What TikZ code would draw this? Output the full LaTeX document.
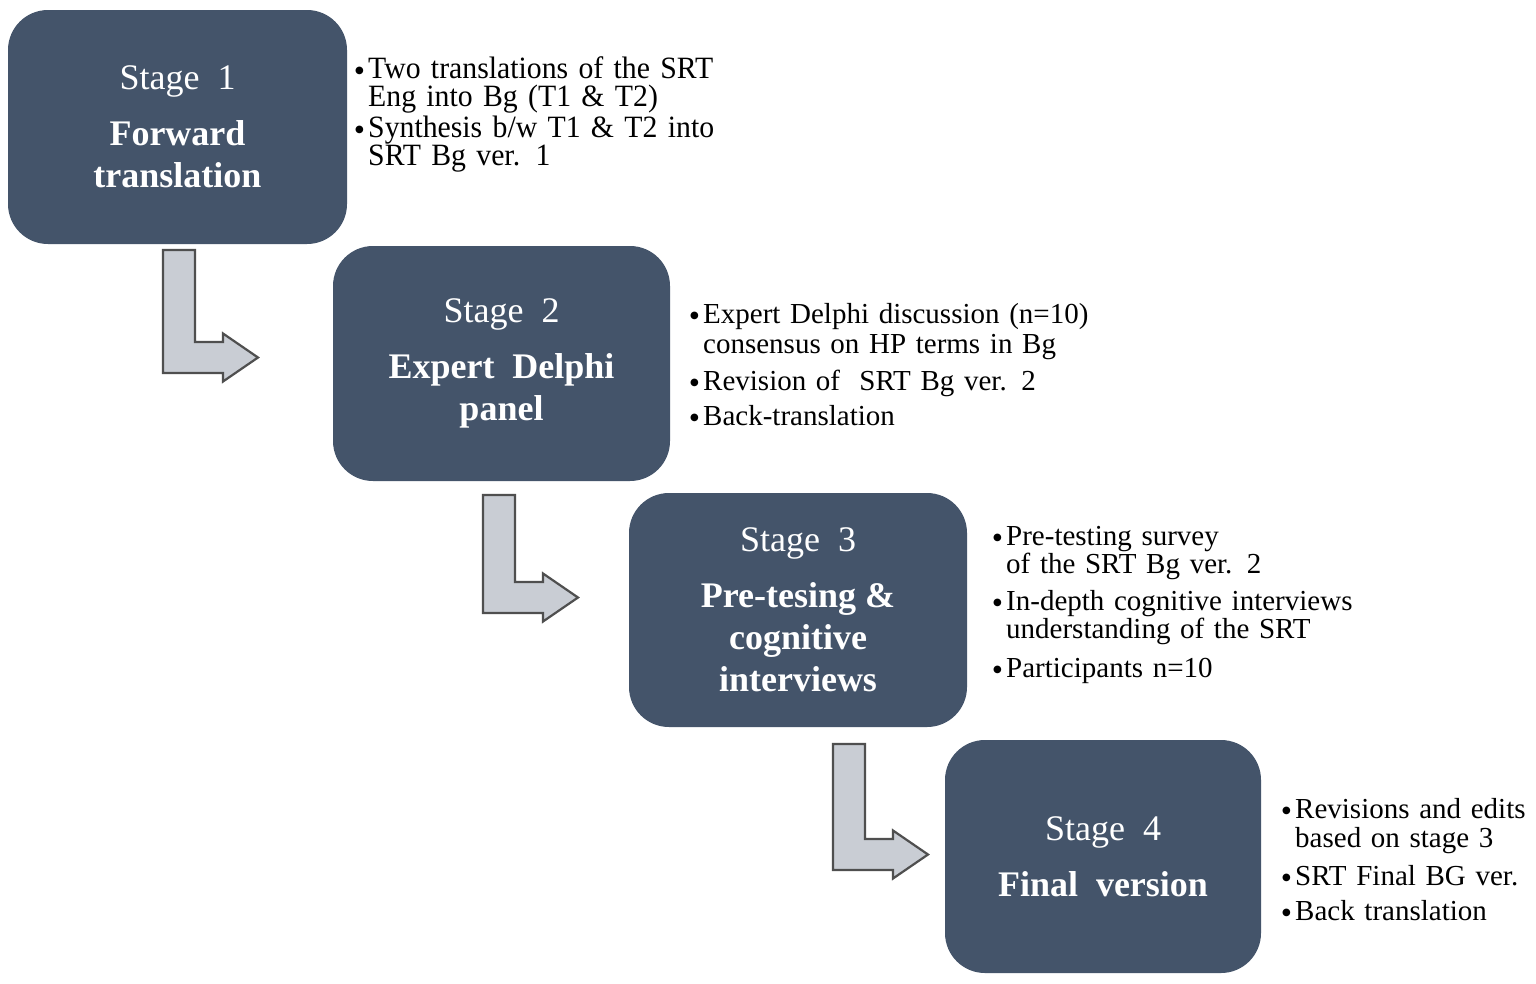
\documentclass[tikz,border=0pt]{standalone}
\usepackage{fontspec}
\setmainfont{Liberation Serif}
\newfontfamily\tallfont[FakeStretch=0.96]{Liberation Serif}
\newfontfamily\symfont{DejaVu Sans}
\definecolor{boxblue}{HTML}{44546A}
\definecolor{arrowfill}{HTML}{C9CDD4}
\definecolor{arrowline}{HTML}{4F4F4F}
\newcommand{\bulit}[1]{\hangindent=13pt\hangafter=1\noindent\makebox[13pt][l]{\raisebox{5pt}{\symfont\fontsize{10}{10}\selectfont ●}}#1\par}
\newcommand{\larrow}[4]{% name, left, top, bottom
  \draw[blockarrow] (#2,#3) -- ++(32,0) -- (#2+32,#4-31) -- (#2+60,#4-31) -- (#2+60,#4-39.5)
    -- (#2+95,#4-15.5) -- (#2+60,#4+8.5) -- (#2+60,#4) -- (#2,#4) -- cycle;}
\begin{document}
\begin{tikzpicture}[x=1pt,y=-1pt,
  stagebox/.style={draw=none, fill=boxblue, rounded corners=40pt, text=white, align=center,
    font=\fontsize{36}{42}\selectfont, inner sep=0pt},
  bullets/.style={anchor=base west, inner sep=0pt, text width=420pt, align=left},
  blockarrow/.style={fill=arrowfill, draw=arrowline, line width=2.2pt, line join=miter}]
\useasboundingbox[fill=white] (0,0) rectangle (1536,983);

\node[stagebox, minimum width=339pt, minimum height=234pt] (s1) at (177.5,127)
  {Stage\ \ 1\\[14pt]\textbf{Forward}\\\textbf{translation}};
\node[stagebox, minimum width=337pt, minimum height=235pt] (s2) at (501.5,363.5)
  {Stage\ \ 2\\[14pt]\textbf{Expert\ \ Delphi}\\\textbf{panel}};
\node[stagebox, minimum width=338pt, minimum height=234pt] (s3) at (798,610)
  {Stage\ \ 3\\[14pt]\textbf{Pre-tesing \&}\\\textbf{cognitive}\\\textbf{interviews}};
\node[stagebox, minimum width=316pt, minimum height=233pt] (s4) at (1103,856.5)
  {Stage\ \ 4\\[14pt]\textbf{Final\ \ version}};

\node[bullets, font=\tallfont\fontsize{31}{28}\selectfont] (b1) at (355,78) {%
  \bulit{Two translations of the SRT\newline Eng into Bg (T1 \& T2)}\vspace{2pt}%
  \bulit{Synthesis b/w T1 \& T2 into\newline SRT Bg ver. 1}};
\node[bullets, font=\fontsize{29}{30}\selectfont] (b2) at (690,323) {%
  \bulit{Expert Delphi discussion (n=10)\newline consensus on HP terms in Bg}\vspace{7pt}%
  \bulit{Revision of\ \ SRT Bg ver. 2}\vspace{5pt}%
  \bulit{Back-translation}};
\node[bullets, font=\fontsize{29}{28}\selectfont] (b3) at (993,545) {%
  \bulit{Pre-testing survey\newline of the SRT Bg ver. 2}\vspace{9pt}%
  \bulit{In-depth cognitive interviews\newline understanding of the SRT}\vspace{11pt}%
  \bulit{Participants n=10}};
\node[bullets, font=\fontsize{29}{29}\selectfont] (b4) at (1282,818) {%
  \bulit{Revisions and edits\newline based on stage 3}\vspace{9pt}%
  \bulit{SRT Final BG ver.}\vspace{6pt}%
  \bulit{Back translation}};

\larrow{a1}{163}{250}{373}
\larrow{a2}{483}{495}{613}
\larrow{a3}{833}{744}{870}
\end{tikzpicture}
\end{document}
